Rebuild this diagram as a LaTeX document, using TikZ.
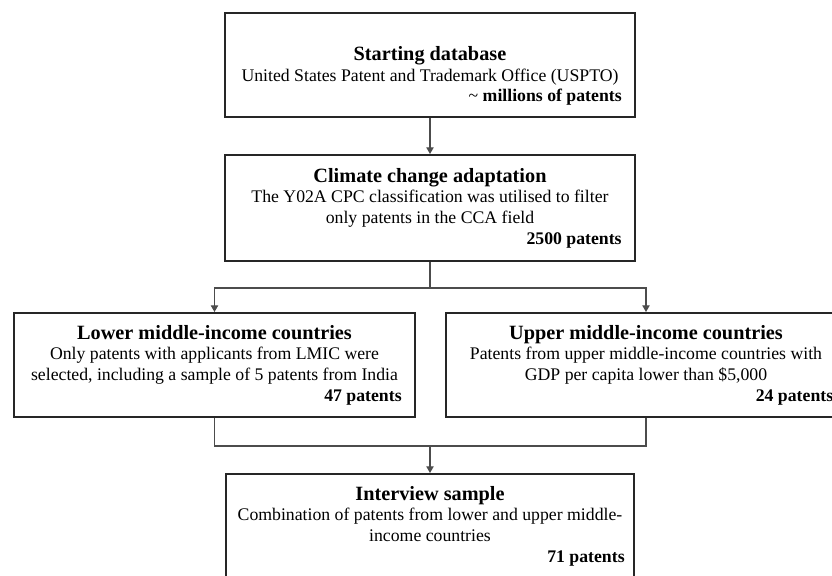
\documentclass[tikz,border=0pt]{standalone}
\usepackage{fontspec}
\setmainfont{Liberation Serif}
\usetikzlibrary{arrows.meta}

\newcommand\boxtitle[1]{{\fontsize{15.2}{17}\selectfont\bfseries #1}}
\newcommand\tally[1]{\hspace*{0pt plus 1filll}\textbf{#1}}

\begin{document}
\begin{tikzpicture}[x=0.75pt, y=-0.75pt,
  box/.style={draw=black!85, line width=1.5pt, align=flush center, inner xsep=10pt, inner ysep=6pt,
    font=\fontsize{13.3}{15.5}\selectfont},
  link/.style={draw=black!70, line width=0.9pt},
  flow/.style={link, -{Triangle[length=5pt, width=5.5pt]}}]
  \useasboundingbox (0,0) rectangle (832,575);
  \clip (0,0) rectangle (832,575);
  \node[box, text width=287.5pt, minimum height=78pt] (db) at (430,65)
    {\rule{0pt}{27pt}\boxtitle{Starting database}\\
     United States Patent and Trademark Office (USPTO)\\
     \tally{\textmd{\textasciitilde} millions of patents}};
  \node[box, text width=287.5pt, minimum height=79.5pt] (cca) at (430,208)
    {\boxtitle{Climate change adaptation}\\
     The Y02A CPC classification was utilised to filter\\
     only patents in the CCA field\\
     \tally{2500 patents}};
  \node[box, text width=280.75pt, minimum height=78pt] (lmic) at (214.5,365)
    {\boxtitle{Lower middle-income countries}\\
     Only patents with applicants from LMIC were\\
     selected, including a sample of 5 patents from India\\
     \tally{47 patents}};
  \node[box, text width=280.75pt, minimum height=78pt] (umic) at (646,365)
    {\boxtitle{Upper middle-income countries}\\
     Patents from upper middle-income countries with\\
     GDP per capita lower than \$5,000\\
     \tally{24 patents}};
  \node[box, anchor=north, inner xsep=7pt, inner ysep=9pt, text width=292pt] (sample) at (430,473)
    {\boxtitle{Interview sample}\\
     Combination of patents from lower and upper middle-\\
     income countries\\
     \tally{71 patents}};
  \coordinate (split) at (430,288);
  \coordinate (merge) at (430,446);
  \draw[flow] (db.south) -- (cca.north);
  \draw[link] (cca.south) -- (split);
  \draw[flow] (split) -| (lmic.north);
  \draw[flow] (split) -| (umic.north);
  \draw[link] (lmic.south) |- (merge) -| (umic.south);
  \draw[flow] (merge) -- (sample.north);
\end{tikzpicture}
\end{document}
